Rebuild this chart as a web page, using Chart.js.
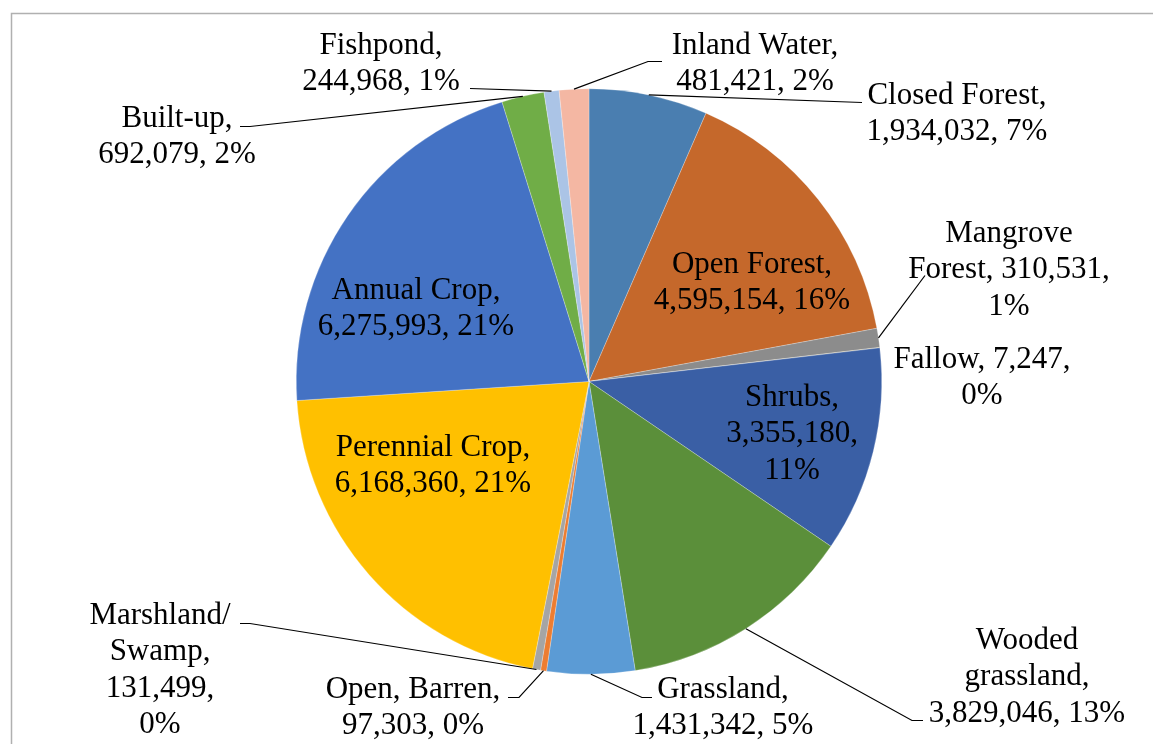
<!DOCTYPE html>
<html>
<head>
<meta charset="utf-8">
<script src="https://cdn.jsdelivr.net/npm/chart.js@4.4.1/dist/chart.umd.min.js"></script>
<style>
  html, body { margin: 0; padding: 0; background: #fff; }
  canvas { display: block; }
</style>
</head>
<body>
<canvas id="landChart" width="1153" height="744"></canvas>
<script>
// Land cover classes, clockwise from 12 o'clock
const categories = [
    'Closed Forest', 'Open Forest', 'Mangrove Forest', 'Fallow', 'Shrubs',
    'Wooded grassland', 'Grassland', 'Open, Barren', 'Marshland/Swamp',
    'Perennial Crop', 'Annual Crop', 'Built-up', 'Fishpond', 'Inland Water'
];
const areas = [
    1934032, 4595154, 310531, 7247, 3355180,
    3829046, 1431342, 97303, 131499,
    6168360, 6275993, 692079, 244968, 481421
];
const percentLabels = ['7%', '16%', '1%', '0%', '11%', '13%', '5%', '0%', '0%', '21%', '21%', '2%', '1%', '2%'];

const sliceColors = [
    '#4a7eb0', '#c5682b', '#8c8c8c', '#c9a227', '#3a5fa5',
    '#5b8f3a', '#5b9bd5', '#ed7d31', '#a5a5a5',
    '#ffc000', '#4472c4', '#70ad47', '#abc4e6', '#f4b7a3'
];

// How each label text wraps (Excel style)
const labelLines = [
    (n, p) => ['Closed Forest,', n + ', ' + p],
    (n, p) => ['Open Forest,', n + ', ' + p],
    (n, p) => ['Mangrove', 'Forest, ' + n + ',', p],
    (n, p) => ['Fallow, ' + n + ',', p],
    (n, p) => ['Shrubs,', n + ',', p],
    (n, p) => ['Wooded', 'grassland,', n + ', ' + p],
    (n, p) => ['Grassland,', n + ', ' + p],
    (n, p) => ['Open, Barren,', n + ', ' + p],
    (n, p) => ['Marshland/', 'Swamp,', n + ',', p],
    (n, p) => ['Perennial Crop,', n + ', ' + p],
    (n, p) => ['Annual Crop,', n + ', ' + p],
    (n, p) => ['Built-up,', n + ', ' + p],
    (n, p) => ['Fishpond,', n + ', ' + p],
    (n, p) => ['Inland Water,', n + ', ' + p]
];

// Label placement, pixels from pie centre (text centre x, first baseline y)
// leader: end point next to the text, tick = horizontal knee length toward the pie
const labelLayout = [
    { dx: 368, dy: -278, leader: { dx: 273, dy: -279, tick: 0 } },
    { dx: 163, dy: -109 },
    { dx: 420, dy: -140, leader: { dx: 336, dy: -106, tick: 0 } },
    { dx: 393, dy: -14 },
    { dx: 203, dy: 24 },
    { dx: 438, dy: 267, leader: { dx: 334, dy: 339, tick: -11 } },
    { dx: 134, dy: 316, leader: { dx: 63, dy: 316, tick: -10 } },
    { dx: -176, dy: 316, leader: { dx: -81, dy: 316, tick: 11 } },
    { dx: -429, dy: 242, leader: { dx: -349, dy: 242, tick: 10 } },
    { dx: -156, dy: 74 },
    { dx: -173, dy: -83 },
    { dx: -412, dy: -255, leader: { dx: -349, dy: -255, tick: 10 } },
    { dx: -208, dy: -328, leader: { dx: -119, dy: -293, tick: 0 } },
    { dx: 166, dy: -328, leader: { dx: 73, dy: -320, tick: -14 } }
];

const fontFamily = "'Liberation Serif', 'Times New Roman', serif";
const fontSize = 31;
const lineHeight = 36.5;

// Frame around the chart (cut off on the right and bottom like the picture)
const framePlugin = {
    id: 'frame',
    beforeDraw(chart) {
        const ctx = chart.ctx;
        ctx.save();
        ctx.strokeStyle = '#b0b0b0';
        ctx.lineWidth = 1.5;
        ctx.strokeRect(11.5, 13.5, chart.width + 20, chart.height + 20);
        ctx.restore();
    }
};

// Data labels with leader lines
const sliceLabelPlugin = {
    id: 'sliceLabels',
    afterDraw(chart) {
        const ctx = chart.ctx;
        const meta = chart.getDatasetMeta(0);
        ctx.save();
        ctx.font = fontSize + 'px ' + fontFamily;
        ctx.textAlign = 'center';
        ctx.textBaseline = 'alphabetic';
        meta.data.forEach((arc, i) => {
            const layout = labelLayout[i];
            const cx = arc.x, cy = arc.y;
            const lines = labelLines[i](areas[i].toLocaleString('en-US'), percentLabels[i]);

            if (layout.leader) {
                const mid = (arc.startAngle + arc.endAngle) / 2;
                const sx = cx + Math.cos(mid) * arc.outerRadius;
                const sy = cy + Math.sin(mid) * arc.outerRadius;
                const ex = cx + layout.leader.dx;
                const ey = cy + layout.leader.dy;
                ctx.beginPath();
                ctx.strokeStyle = '#000';
                ctx.lineWidth = 1.2;
                ctx.moveTo(sx, sy);
                ctx.lineTo(ex + layout.leader.tick, ey);
                ctx.lineTo(ex, ey);
                ctx.stroke();
            }

            ctx.fillStyle = '#000';
            lines.forEach((txt, k) => {
                ctx.fillText(txt, cx + layout.dx, cy + layout.dy + k * lineHeight);
            });
        });
        ctx.restore();
    }
};

const config = {
    type: 'pie',
    data: {
        labels: categories,
        datasets: [{
            data: areas,
            backgroundColor: sliceColors,
            borderColor: 'rgba(255,255,255,0.5)',
            borderWidth: 0.5
        }]
    },
    options: {
        responsive: false,
        animation: false,
        layout: {
            padding: { left: 296, right: 271, top: 88, bottom: 69 }
        },
        plugins: {
            legend: { display: false },
            tooltip: { enabled: false }
        }
    },
    plugins: [framePlugin, sliceLabelPlugin]
};

window.onload = function() {
    const ctx = document.getElementById('landChart').getContext('2d');
    new Chart(ctx, config);
};
</script>
</body>
</html>
